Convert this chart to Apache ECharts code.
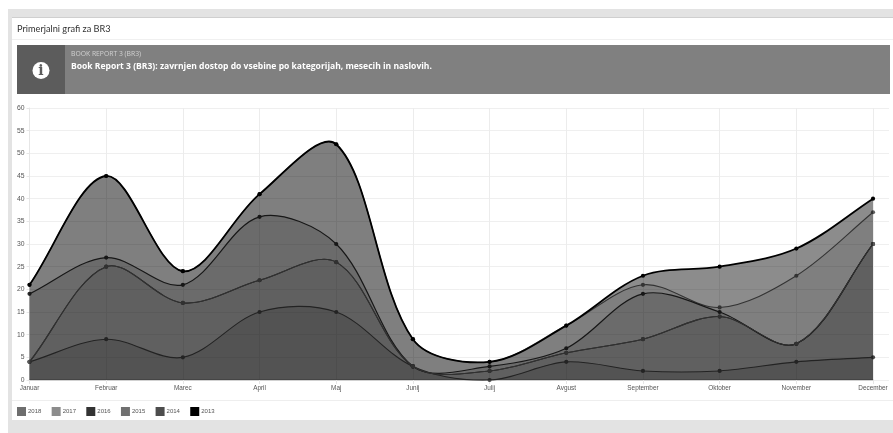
<!DOCTYPE html>
<html>
<head>
<meta charset="utf-8">
<title>Primerjalni grafi za BR3</title>
<script src="https://cdn.jsdelivr.net/npm/echarts@6/dist/echarts.min.js"></script>
<style>
html,body{margin:0;padding:0;background:#fff;}
#main{width:893px;height:433px;}
</style>
</head>
<body>
<div id="main"></div>
<script>
var months=['Januar','Februar','Marec','April','Maj','Junij','Julij','Avgust','September','Oktober','November','December'];
var legendNames=['2018','2017','2016','2015','2014','2013'];
var v2013=[21,45,24,41,52,9,4,12,23,25,29,40];
var v2014=[4,9,5,15,15,3,0,4,2,2,4,5];
var v2015=[4,25,17,22,26,3,2,6,9,14,8,30];
var v2016=[19,27,21,36,30,3,3,7,19,15,8,30];
var v2017=[21,45,24,41,52,9,4,12,21,16,23,37];
var v2018=[4,25,17,22,26,3,2,6,9,14,8,30];

var chart=echarts.init(document.getElementById('main'));

//the original curve has no clamp on the control points, line series would flatten the peaks
function curvePath(pts){
	var tension=0.33;
	var d='M'+pts[0][0]+' '+pts[0][1];
	for(var i=0;i<pts.length-1;i++){
		var c1=control(pts,i,1,tension);
		var c2=control(pts,i+1,-1,tension);
		d+='C'+c1[0]+' '+c1[1]+' '+c2[0]+' '+c2[1]+' '+pts[i+1][0]+' '+pts[i+1][1];
	}
	return d;
}
function control(pts,i,side,t){
	var cur=pts[i];
	var prev=pts[i-1]||cur;
	var next=pts[i+1]||cur;
	var d0=Math.sqrt(Math.pow(cur[0]-prev[0],2)+Math.pow(cur[1]-prev[1],2));
	var d1=Math.sqrt(Math.pow(next[0]-cur[0],2)+Math.pow(next[1]-cur[1],2));
	if(d0+d1===0){return cur;}
	var f=t*(side>0?d1:d0)/(d0+d1)*side;
	return [cur[0]+f*(next[0]-prev[0]),cur[1]+f*(next[1]-prev[1])];
}

function line(name,data,swatch,lineColor,width,fill,z){
	var seriesData=data.map(function(v,i){return [i,v];});
	return {
		name:name,
		type:'custom',
		data:seriesData,
		coordinateSystem:'cartesian2d',
		encode:{x:0,y:1},
		z:z,
		clip:false,
		itemStyle:{color:swatch},
		renderItem:function(params,api){
			var p=api.coord([api.value(0),api.value(1)]);
			var dot={type:'circle',z2:3,shape:{cx:p[0],cy:p[1],r:2.1},style:{fill:lineColor}};
			if(params.dataIndex!==0){return dot;}
			var pts=seriesData.map(function(d){return api.coord(d);});
			var curve=curvePath(pts);
			var base=api.coord([0,0])[1];
			var area=curve+'L'+pts[pts.length-1][0]+' '+base+'L'+pts[0][0]+' '+base+'Z';
			return {type:'group',children:[
				{type:'path',z2:1,shape:{pathData:area},style:{fill:'rgba(0,0,0,'+fill+')',stroke:null}},
				{type:'path',z2:2,shape:{pathData:curve},style:{fill:null,stroke:lineColor,lineWidth:width}},
				dot
			]};
		}
	};
}

var options={
	backgroundColor:'#fff',
	animation:false,
	textStyle:{fontFamily:'"Liberation Sans",Arial,sans-serif'},
	graphic:{elements:[
		{type:'rect',z:-10,shape:{x:0,y:9,width:893,height:424},style:{fill:'#e3e3e3'}},
		{type:'rect',z:-9,shape:{x:0,y:0,width:8,height:433},style:{fill:'#fff'}},
		{type:'rect',z:-9,shape:{x:12,y:17,width:881,height:1},style:{fill:'#cfcfcf'}},
		{type:'rect',z:-9,shape:{x:12,y:18,width:881,height:402},style:{fill:'#fff'}},
		{type:'rect',z:-8,shape:{x:12,y:39,width:881,height:1},style:{fill:'#f0f0f0'}},
		{type:'rect',z:-8,shape:{x:12,y:400,width:881,height:1},style:{fill:'#eeeeee'}},
		{type:'text',z:5,style:{x:17,y:29,text:'Primerjalni grafi za BR3',fill:'#333',font:'9.2px Lato',textVerticalAlign:'middle'}},
		{type:'rect',z:1,shape:{x:17,y:45,width:873,height:49},style:{fill:'#808080'}},
		{type:'rect',z:1,shape:{x:17,y:45,width:48,height:49},style:{fill:'#5c5c5c'}},
		{type:'circle',z:2,shape:{cx:41,cy:70.5,r:8.5},style:{fill:'#fff'}},
		{type:'text',z:3,style:{x:41,y:71,text:'i',fill:'#5c5c5c',font:'bold 14px "DejaVu Serif"',textAlign:'center',textVerticalAlign:'middle'}},
		{type:'text',z:3,style:{x:71,y:54.5,text:'BOOK REPORT 3 (BR3)',fill:'#d0d0d0',font:'6.8px "Open Sans"',textVerticalAlign:'middle'}},
		{type:'text',z:3,style:{x:71,y:67,text:'Book Report 3 (BR3): zavrnjen dostop do vsebine po kategorijah, mesecih in naslovih.',fill:'#fff',font:'bold 8.55px "Open Sans"',textVerticalAlign:'middle'}}
	]},
	legend:{
		data:legendNames,
		left:17,
		top:407,
		padding:0,
		icon:'rect',
		itemWidth:9,
		itemHeight:9,
		itemGap:10.3,
		itemStyle:{borderWidth:0},
		textStyle:{fontSize:6,color:'#555',padding:[0,0,0,-3]},
		selectedMode:false
	},
	grid:[
		{left:29.5,right:20,top:108,bottom:53},
		{left:29.5,right:4,top:108,bottom:53}
	],
	xAxis:[
		{
			type:'category',
			data:months,
			boundaryGap:false,
			gridIndex:0,
			axisLine:{lineStyle:{color:'#c8c8c8',width:1.5}},
			axisTick:{show:true,length:4,lineStyle:{color:'#e6e6e6'}},
			axisLabel:{fontSize:6.4,color:'#555',margin:5,showMinLabel:true,showMaxLabel:true,interval:0},
			splitLine:{show:true,lineStyle:{color:'#ececec',width:1}}
		},
		{type:'value',gridIndex:1,min:0,max:1,show:false}
	],
	yAxis:[
		{
			type:'value',
			gridIndex:0,
			min:0,max:60,interval:5,
			axisLine:{show:true,lineStyle:{color:'#e6e6e6'}},
			axisTick:{show:true,length:3,lineStyle:{color:'#e6e6e6'}},
			axisLabel:{fontSize:6.8,color:'#555',margin:5},
			splitLine:{show:false}
		},
		{
			type:'value',
			gridIndex:1,
			min:0,max:60,interval:5,
			axisLine:{show:false},
			axisTick:{show:false},
			axisLabel:{show:false},
			splitLine:{show:true,lineStyle:{color:'#efefef',width:1}}
		}
	],
	series:[
		line('2018',v2018,'#6e6e6e','#5a5a5a',1.1,0.05,2),
		line('2017',v2017,'#8c8c8c','#5e5e5e',1.1,0.093,3),
		line('2016',v2016,'#333333','#2a2a2a',1.2,0.15,4),
		line('2014',v2014,'#4d4d4d','#444444',1.1,0.133,5),
		line('2015',v2015,'#707070','#5a5a5a',1.1,0.05,6),
		line('2013',v2013,'#000000','#000000',1.8,0.45,7)
	]
};
chart.setOption(options);
</script>
</body>
</html>
